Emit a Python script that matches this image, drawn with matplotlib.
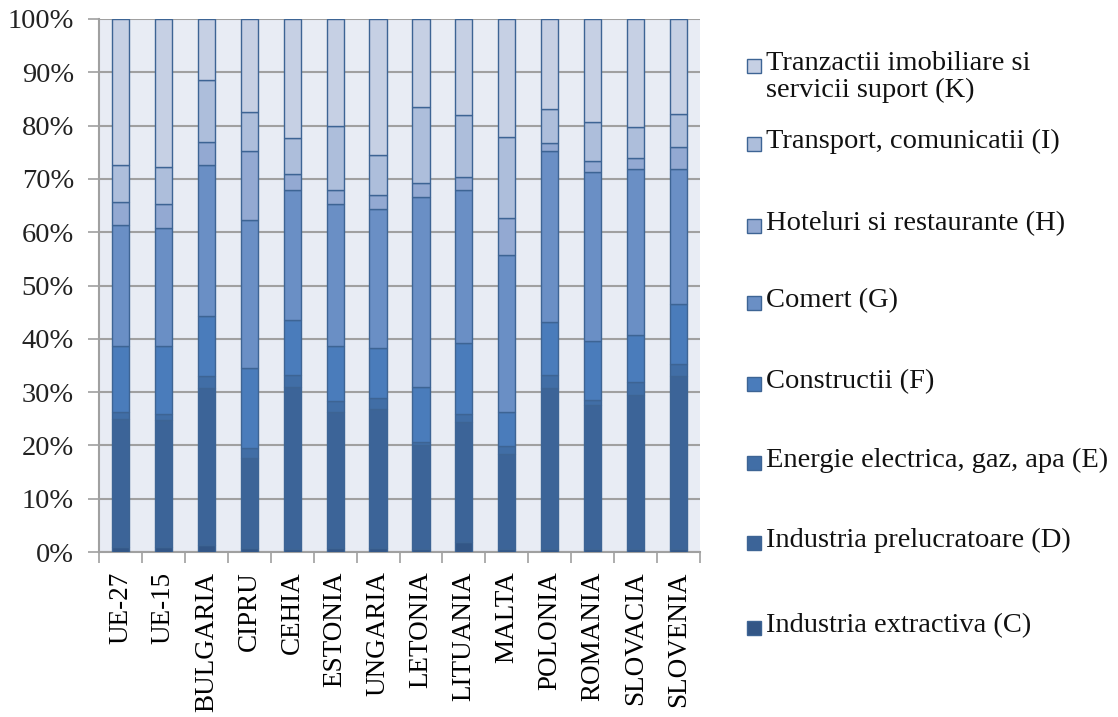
import numpy as np
import matplotlib.pyplot as plt
from matplotlib.patches import Rectangle
from matplotlib.ticker import FixedLocator, PercentFormatter

plt.rcParams['font.family'] = ['Liberation Serif', 'DejaVu Serif']

countries = ['UE-27', 'UE-15', 'BULGARIA', 'CIPRU', 'CEHIA', 'ESTONIA', 'UNGARIA',
             'LETONIA', 'LITUANIA', 'MALTA', 'POLONIA', 'ROMANIA', 'SLOVACIA', 'SLOVENIA']

# shares (%) per sector, bottom to top
extractiva = [1.0, 1.0, 1.3, 0.7, 0.5, 0.7, 0.7, 0.6, 1.8, 0.6, 0.6, 0.6, 0.6, 0.6]
prelucratoare = [24.0, 23.7, 29.4, 16.9, 30.5, 25.6, 26.1, 19.5, 22.6, 17.7, 30.2, 27.0, 28.9, 32.4]
energie = [1.2, 1.2, 2.3, 1.9, 2.3, 2.1, 2.1, 0.5, 1.5, 1.5, 2.4, 1.0, 2.4, 2.3]
constructii = [12.5, 12.8, 11.2, 15.0, 10.2, 10.3, 9.3, 10.4, 13.4, 6.5, 10.0, 10.9, 8.9, 11.2]
comert = [22.7, 22.1, 28.5, 27.7, 24.4, 26.6, 26.1, 35.6, 28.6, 29.4, 32.0, 31.8, 31.1, 25.4]
hoteluri = [4.2, 4.5, 4.3, 13.0, 3.1, 2.6, 2.6, 2.6, 2.4, 7.0, 1.5, 2.1, 2.0, 4.1]
transport = [7.1, 6.9, 11.6, 7.4, 6.6, 12.0, 7.6, 14.3, 11.7, 15.2, 6.4, 7.3, 5.8, 6.2]
tranzactii = [27.3, 27.8, 11.4, 17.4, 22.4, 20.1, 25.5, 16.5, 18.0, 22.1, 16.9, 19.3, 20.3, 17.8]

series = [extractiva, prelucratoare, energie, constructii, comert, hoteluri, transport, tranzactii]
labels = ['Industria extractiva (C)', 'Industria prelucratoare (D)',
          'Energie electrica, gaz, apa (E)', 'Constructii (F)', 'Comert (G)',
          'Hoteluri si restaurante (H)', 'Transport, comunicatii (I)',
          'Tranzactii imobiliare si\nservicii suport (K)']
colors = ['#335686', '#3c6498', '#416ea6', '#4a7cbb', '#6a8fc5',
          '#93a9d2', '#adbedb', '#c6d0e4']
edge = '#3d6494'

W, H = 1118, 717
fig = plt.figure(figsize=(W / 100, H / 100), dpi=100)
ax = fig.add_axes([99 / W, 1 - 552 / H, 601 / W, 533 / H])
ax.set_facecolor('#e8ecf4')

x = np.arange(len(countries))
bottom = np.zeros(len(countries))
for vals, lab, col in zip(series, labels, colors):
    vals = np.array(vals)
    ax.bar(x, vals, 0.4, bottom=bottom, color=col, edgecolor=edge,
           linewidth=1.0, label=lab, zorder=3)
    bottom += vals

ax.set_xlim(-0.5, len(countries) - 0.5)
ax.set_ylim(0, 100)
ax.set_yticks(np.arange(0, 101, 10))
ax.yaxis.set_major_formatter(PercentFormatter(decimals=0))
ax.grid(axis='y', color='#a0a0a0', linewidth=1.5, zorder=0)

ax.set_xticks(x)
ax.set_xticklabels(countries, rotation=90, va='top', ha='center')
ax.xaxis.set_minor_locator(FixedLocator(np.arange(-0.5, len(countries), 1)))
ax.tick_params(axis='x', which='major', length=0, pad=14, labelsize=19.5)
ax.tick_params(axis='x', which='minor', length=8, width=1.2, color='#a0a0a0')
ax.tick_params(axis='y', length=8, width=1.2, color='#a0a0a0', pad=10,
               labelsize=20.5, labelcolor='#222222')

for s in ['top', 'right']:
    ax.spines[s].set_visible(False)
for s in ['left', 'bottom']:
    ax.spines[s].set_color('#a0a0a0')
    ax.spines[s].set_linewidth(1.5)

# legend, placed entry by entry (top entry first), pixel rows like the original
rows = [68, 146, 228, 305, 386, 465, 545, 630]
sq = 14
for yy, lab, col in zip(rows, labels[::-1], colors[::-1]):
    fig.patches.append(Rectangle((747 / W, 1 - (yy - 2 + sq / 2) / H), sq / W, sq / H,
                                 transform=fig.transFigure, facecolor=col,
                                 edgecolor=edge, linewidth=1.0))
    fig.text(766 / W, 1 - (yy - 17) / H, lab, fontsize=20.5, va='top', ha='left',
             linespacing=1.12, color='#111111')

fig.savefig('out.png', dpi=100)
